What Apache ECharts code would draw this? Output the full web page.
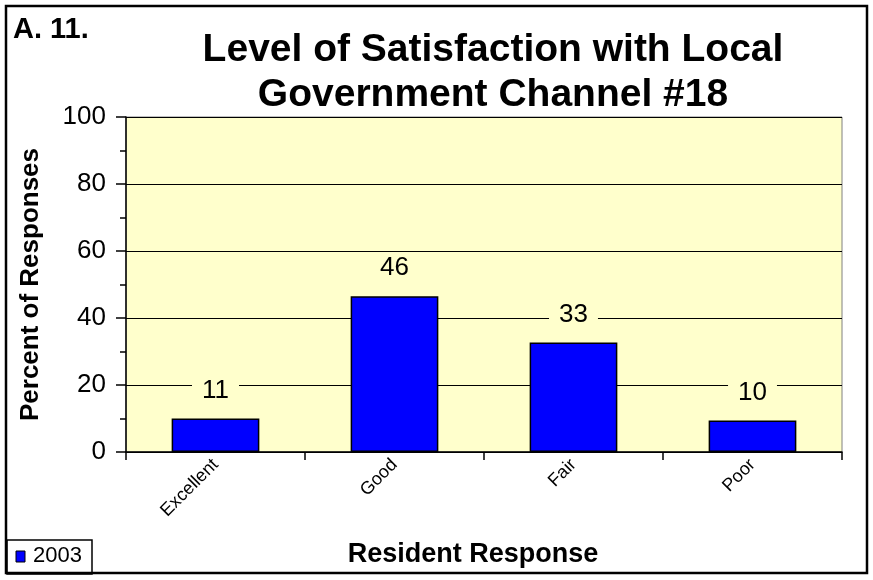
<!DOCTYPE html>
<html><head><meta charset="utf-8">
<script src="https://cdn.jsdelivr.net/npm/echarts@6/dist/echarts.min.js"></script>
<style>html,body{margin:0;padding:0;background:#fff}#c{width:873px;height:580px}</style>
</head><body><div id="c"></div>
<script>
const categories = ['Excellent', 'Good', 'Fair', 'Poor'];
const values2003 = [10, 46.5, 32.7, 9.4];
const dataLabels = ['11', '46', '33', '10'];
const yTicks = [0, 20, 40, 60, 80, 100];
const seriesName = '2003';

const chart = echarts.init(document.getElementById('c'), null, {renderer: 'canvas'});
const F = 'Arial, "Liberation Sans", sans-serif';
chart.setOption({
  animation: false,
  backgroundColor: '#ffffff',
  title: {
    text: 'Level of Satisfaction with Local\nGovernment Channel #18',
    left: 488, top: 23, textAlign: 'center',
    textStyle: {fontFamily: F, fontWeight: 'bold', fontSize: 39, color: '#000', lineHeight: 45}
  },
  grid: {left: 126, right: 31, top: 117, bottom: 128, show: true, backgroundColor: '#FFFFCC', borderColor: '#808080', borderWidth: 1},
  xAxis: {
    type: 'category', data: categories,
    name: 'Resident Response', nameLocation: 'middle', nameGap: 89,
    nameTextStyle: {fontFamily: F, fontWeight: 'bold', fontSize: 27, color: '#000', padding: [0, 22, 0, 0]},
    axisLine: {lineStyle: {color: '#000', width: 1.5}},
    axisTick: {show: true, length: 8, lineStyle: {color: '#000', width: 1.5}},
    axisLabel: {rotate: 45, fontFamily: F, fontSize: 18, color: '#000', margin: 10},
    splitLine: {show: false}
  },
  yAxis: {
    type: 'value', min: 0, max: 100, interval: 20,
    name: 'Percent of Responses', nameLocation: 'middle', nameGap: 82,
    nameTextStyle: {fontFamily: F, fontWeight: 'bold', fontSize: 26, color: '#000'},
    axisLine: {show: true, lineStyle: {color: '#000', width: 1.5}},
    axisTick: {show: true, length: 10, lineStyle: {color: '#000', width: 1.5}},
    minorTick: {show: true, splitNumber: 2, length: 6, lineStyle: {color: '#000', width: 1.5}},
    axisLabel: {fontFamily: F, fontSize: 26, color: '#000', margin: 20,
      formatter: v => yTicks.includes(v) ? String(v) : ''},
    splitLine: {show: true, lineStyle: {color: '#000', width: 1}}
  },
  series: [{
    name: seriesName, type: 'bar', data: values2003, barWidth: '49%',
    itemStyle: {color: '#0000FF', borderColor: '#000', borderWidth: 1.5},
    label: {show: true, position: 'top', distance: 13,
      formatter: p => dataLabels[p.dataIndex],
      fontFamily: F, fontSize: 26, color: '#000', backgroundColor: '#FFFFCC', padding: [2, 10]}
  }],
  graphic: [
    {type: 'rect', shape: {x: 6, y: 6, width: 861, height: 567}, style: {fill: 'none', stroke: '#000', lineWidth: 2.5}, z: 100},
    {type: 'text', left: 13, top: 15, style: {text: 'A. 11.', font: 'bold 29px ' + F, fill: '#000'}},
    {type: 'rect', shape: {x: 7, y: 540, width: 85, height: 34}, style: {fill: '#fff', stroke: '#000', lineWidth: 1.5}, z: 50},
    {type: 'rect', shape: {x: 16, y: 551, width: 9, height: 11}, style: {fill: '#0000FF', stroke: '#000', lineWidth: 1}, z: 51},
    {type: 'text', x: 33, y: 545, style: {text: seriesName, font: '22px ' + F, fill: '#000'}, z: 51}
  ]
});
</script></body></html>
